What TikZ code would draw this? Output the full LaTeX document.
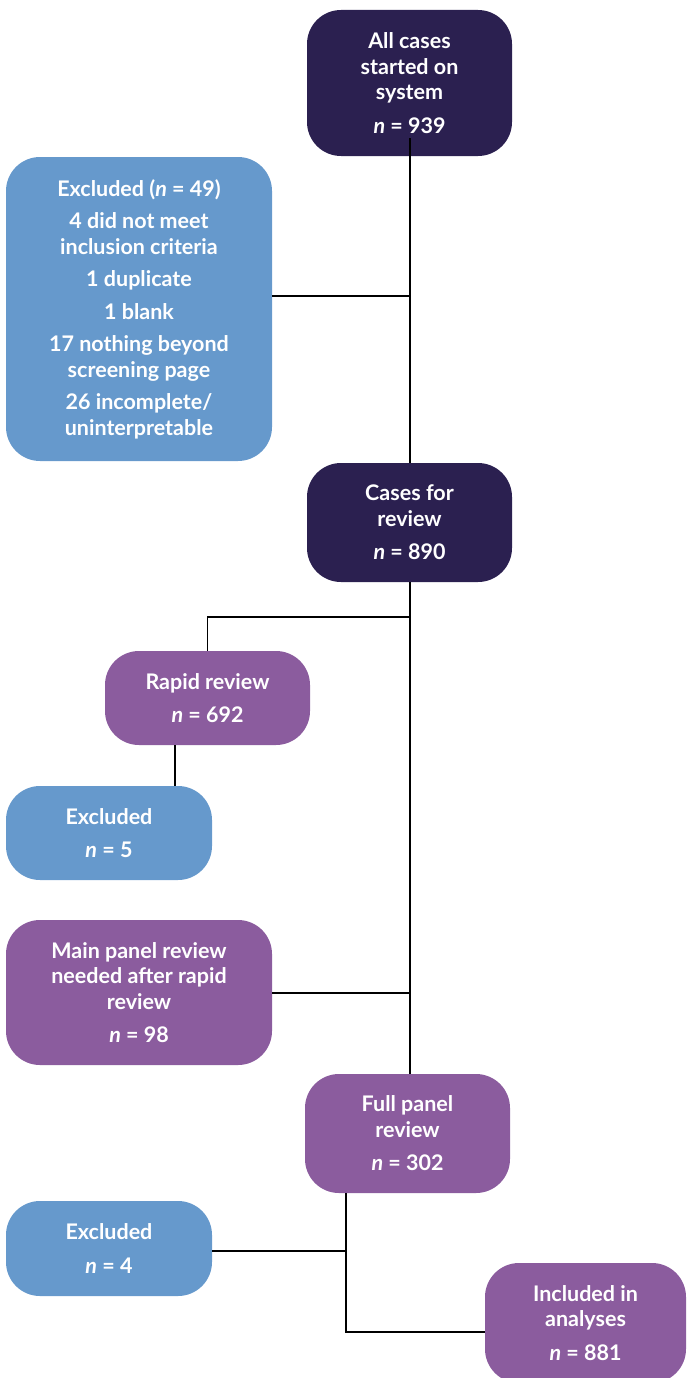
\documentclass[tikz,border=0pt]{standalone}
\usepackage{fontspec}
\setmainfont{Lato}
\definecolor{navyc}{RGB}{43,32,80}
\definecolor{bluec}{RGB}{102,153,204}
\definecolor{purpc}{RGB}{139,92,158}
\begin{document}
\begin{tikzpicture}[x=1pt,y=-1pt,
  box/.style={rounded corners=34pt, text=white, font=\bfseries\fontsize{21.5}{25.5}\selectfont, align=center, inner sep=0pt, draw=none},
  navybox/.style={box, fill=navyc},
  bluebox/.style={box, fill=bluec},
  purpbox/.style={box, fill=purpc},
  conn/.style={draw=black, line width=1.4pt}]
\useasboundingbox (0,0) rectangle (686,1378);
\node[navybox, minimum width=205pt, minimum height=146pt] (b1) at (409.5,83) {All cases\\started on\\system\\[8pt]\textit{n} = 939};
\node[bluebox, minimum width=266pt, minimum height=304pt] (b2) at (139,309) {Excluded (\textit{n} = 49)\\[7pt]4 did not meet\\inclusion criteria\\[7pt]1 duplicate\\[7pt]1 blank\\[7pt]17 nothing beyond\\screening page\\[7pt]26 incomplete/\\uninterpretable};
\node[navybox, minimum width=205pt, minimum height=119pt] (b3) at (409.5,522.5) {Cases for\\review\\[8pt]\textit{n} = 890};
\node[purpbox, minimum width=205pt, minimum height=94pt] (b4) at (207.5,698) {Rapid review\\[8pt]\textit{n} = 692};
\node[bluebox, minimum width=206pt, minimum height=94pt] (b5) at (109,833) {Excluded\\[8pt]\textit{n} = 5};
\node[purpbox, minimum width=266pt, minimum height=145pt] (b6) at (139,992.5) {Main panel review\\needed after rapid\\review\\[8pt]\textit{n} = 98};
\node[purpbox, minimum width=205pt, minimum height=119pt] (b7) at (407.5,1133.5) {Full panel\\review\\[8pt]\textit{n} = 302};
\node[bluebox, minimum width=206pt, minimum height=95pt] (b8) at (109,1248.5) {Excluded\\[8pt]\textit{n} = 4};
\node[purpbox, minimum width=201pt, minimum height=120pt] (b9) at (585.5,1323) {Included in\\analyses\\[8pt]\textit{n} = 881};
\coordinate (j1) at (410,296);
\coordinate (j2) at (410,617);
\coordinate (j3) at (410,993);
\coordinate (c5) at (175,745);
\coordinate (k1) at (346,1193);
\coordinate (k2) at (346,1332);
\draw[conn] ([yshift=18pt]b1.south -| j1) -- (j1 |- b3.north);
\draw[conn] (b2.east |- j1) -- (j1);
\draw[conn] (j1 |- b3.south) -- (j1 |- b7.north);
\draw[conn] (j2) -| (b4.north);
\draw[conn] (c5) -- (c5 |- b5.north);
\draw[conn] (b6.east |- j3) -- (j3);
\draw[conn] (k1) -- (k2) -- (b9.west |- k2);
\draw[conn] (b8.east |- 0,1251) -- (k1 |- 0,1251);
\end{tikzpicture}
\end{document}
